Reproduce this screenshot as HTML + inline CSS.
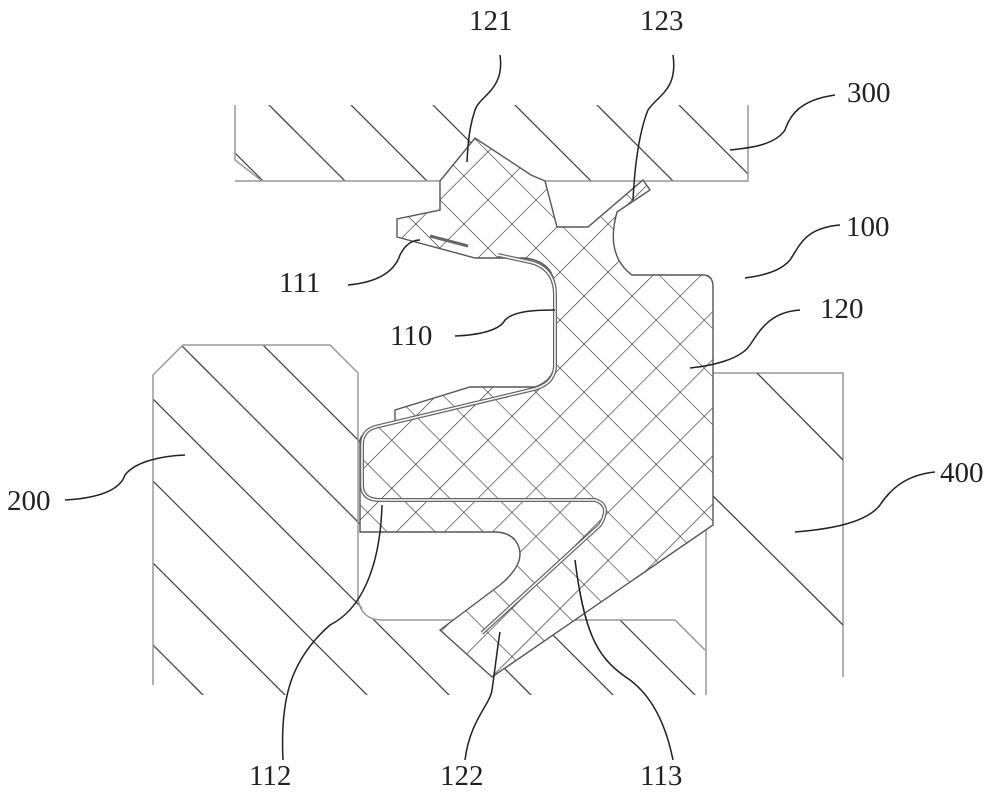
<!DOCTYPE html>
<html><head><meta charset="utf-8"><style>
html,body{margin:0;padding:0;background:#fff;width:1000px;height:795px;overflow:hidden}
svg{display:block}
text{font-family:"Liberation Serif",serif;font-size:29px;fill:#222}
</style></head><body>
<svg width="1000" height="795" viewBox="0 0 1000 795" xmlns="http://www.w3.org/2000/svg">
<defs>
<pattern id="h1" patternUnits="userSpaceOnUse" width="82" height="82" patternTransform="translate(0,0)">
<path d="M-82,0 L82,164 M0,-82 L164,82 M-164,-82 L0,82" stroke="#444" stroke-width="1.3"/>
<path d="M0,0 L82,82" stroke="#444" stroke-width="1.3"/>
</pattern>
<pattern id="x1" patternUnits="userSpaceOnUse" width="34" height="34" patternTransform="rotate(45) translate(10,0)">
<path d="M0,0 L0,34 M0,0 L34,0" stroke="#333" stroke-width="1.3"/>
</pattern>
</defs>

<!-- part 300 -->
<path d="M235,105 L235,160 L262,181 L748,181 L748,105" fill="url(#h1)" stroke="none"/>
<path d="M235,105 L235,160 L262,181 M235,181 L748,181 L748,105" fill="none" stroke="#999" stroke-width="1.5"/>

<!-- part 200 -->
<path d="M153,375 L183,345 L330,345 L360,373 L360,600 Q362,620 382,620 L675,620 L705,650 L705,695 L153,695 Z" fill="url(#h1)"/>
<path d="M153,685 L153,375 L183,345 L330,345 L358,373 L358,600 Q362,620 382,620 L675,620 L705,650" fill="none" stroke="#999" stroke-width="1.5"/>

<!-- part 400 -->
<path d="M706,695 L706,373 L843,373 L843,677" fill="none" stroke="#999" stroke-width="1.5"/>
<path d="M757,373 L843,460 M710,493 L843,625" stroke="#444" stroke-width="1.3"/>

<!-- seal 100 -->
<path d="M440,181 L475,138 L531,175 L545,181 L557,227 L588,227 L643,180 L650,190 L617,212 Q605,255 632,275 L703,275 Q713,275 713,287 L713,525 L492,677 L440,630 L500,585 Q530,560 515,540 Q508,532 495,532 L360,532 L360,440 Q362,432 375,428 L395,423 L395,410 L470,387 L535,387 Q555,380 555,360 L555,290 Q555,262 525,258 L475,258 L397,237 L397,219 L440,210 Z" fill="#fff" stroke="none"/>
<path d="M440,181 L475,138 L531,175 L545,181 L557,227 L588,227 L643,180 L650,190 L617,212 Q605,255 632,275 L703,275 Q713,275 713,287 L713,525 L492,677 L440,630 L500,585 Q530,560 515,540 Q508,532 495,532 L360,532 L360,440 Q362,432 375,428 L395,423 L395,410 L470,387 L535,387 Q555,380 555,360 L555,290 Q555,262 525,258 L475,258 L397,237 L397,219 L440,210 Z" fill="url(#x1)" stroke="#555" stroke-width="1.4"/>
<!-- insert 110 -->
<path d="M498,255 L530,262 Q555,268 555,295 L555,365 Q555,385 530,390 L375,427 Q362,431 362,445 L362,485 Q362,500 380,500 L595,500 Q612,505 600,525 L482,633" fill="none" stroke="#666" stroke-width="4"/>
<path d="M498,255 L530,262 Q555,268 555,295 L555,365 Q555,385 530,390 L375,427 Q362,431 362,445 L362,485 Q362,500 380,500 L595,500 Q612,505 600,525 L482,633" fill="none" stroke="#fff" stroke-width="1.5"/>
<path d="M430,236 L468,246" stroke="#666" stroke-width="3"/>

<!-- leaders -->
<g fill="none" stroke="#222" stroke-width="1.5">
<path d="M500,55 C505,90 480,95 475,110 C470,125 468,140 467,162"/>
<path d="M673,55 C678,90 658,95 648,110 C640,130 635,160 633,200"/>
<path d="M835,95 C800,100 790,115 785,130 C775,145 750,148 730,150"/>
<path d="M840,225 C805,228 800,245 790,260 C780,272 760,276 745,278"/>
<path d="M800,310 C770,312 760,330 750,345 C740,360 710,366 690,368"/>
<path d="M348,285 C380,282 395,270 400,255 C405,245 412,240 420,240"/>
<path d="M455,336 C480,335 500,330 505,320 C515,310 540,310 555,310"/>
<path d="M65,500 C100,498 120,490 125,475 C135,462 160,456 185,455"/>
<path d="M935,472 C905,475 890,490 880,505 C865,525 820,530 795,532"/>
<path d="M283,760 C280,700 290,660 330,625 C360,610 380,570 382,505"/>
<path d="M465,760 C470,720 490,705 492,690 C495,670 497,650 500,632"/>
<path d="M673,760 C665,720 650,695 630,680 C600,660 585,640 575,560"/>
</g>

<!-- labels -->
<text x="469" y="30">121</text>
<text x="640" y="30">123</text>
<text x="847" y="102">300</text>
<text x="846" y="236">100</text>
<text x="820" y="318">120</text>
<text x="279" y="292">111</text>
<text x="390" y="345">110</text>
<text x="7" y="510">200</text>
<text x="940" y="482">400</text>
<text x="249" y="785">112</text>
<text x="440" y="785">122</text>
<text x="640" y="785">113</text>
</svg>
</body></html>
